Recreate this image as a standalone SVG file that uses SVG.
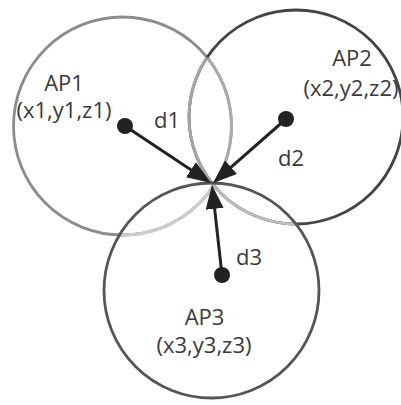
<svg xmlns="http://www.w3.org/2000/svg" width="401" height="405" viewBox="0 0 401 405">
<style>
.ring{fill:none;stroke-width:2.8}
.dot{fill:#222}
.lbl{font-family:"Open Sans","Liberation Sans",sans-serif;font-size:22px;fill:#3a3a3a;text-anchor:middle}
.arr{stroke:#222;stroke-width:3;fill:none;marker-end:url(#ah)}
</style>
<defs>
<marker id="ah" markerUnits="userSpaceOnUse" markerWidth="24" markerHeight="18" viewBox="0 0 24 18" refX="12" refY="9" orient="auto">
<path d="M0,0 L24,9 L0,18 z" fill="#222"/>
</marker>
<clipPath id="in1"><circle cx="122.5" cy="126" r="109"/></clipPath>
<clipPath id="in2"><circle cx="296" cy="117" r="107"/></clipPath>
<clipPath id="in3"><circle cx="211.5" cy="290.5" r="107.5"/></clipPath>
</defs>
<rect width="401" height="405" fill="#fff"/>
<g id="AP1">
<circle class="ring" cx="122.5" cy="126" r="109" stroke="#8c8c8c"/>
<circle class="ring" cx="122.5" cy="126" r="109" stroke="#ababab" clip-path="url(#in2)"/>
<circle class="ring" cx="122.5" cy="126" r="109" stroke="#cccccc" clip-path="url(#in3)"/>
<circle class="dot" cx="125" cy="126" r="8"/>
<text class="lbl" x="64" y="90.5">AP1</text>
<text class="lbl" x="64" y="118">(x1,y1,z1)</text>
</g>
<g id="AP2">
<circle class="ring" cx="296" cy="117" r="107" stroke="#444"/>
<circle class="ring" cx="296" cy="117" r="107" stroke="#a6a6a6" clip-path="url(#in1)"/>
<circle class="ring" cx="296" cy="117" r="107" stroke="#bdbdbd" clip-path="url(#in3)"/>
<circle class="dot" cx="286" cy="119" r="8"/>
<text class="lbl" x="352" y="66">AP2</text>
<text class="lbl" x="351" y="96">(x2,y2,z2)</text>
</g>
<g id="AP3">
<circle class="ring" cx="211.5" cy="290.5" r="107.5" stroke="#555"/>
<circle class="dot" cx="222" cy="275" r="8"/>
<text class="lbl" x="204.5" y="325">AP3</text>
<text class="lbl" x="204" y="353">(x3,y3,z3)</text>
</g>
<g id="connectors">
<path class="arr" d="M125,126 L201,176.4"/>
<path class="arr" d="M286,119 L222,175.1"/>
<path class="arr" d="M222,275 L213.3,196.9"/>
<text class="lbl" x="167" y="128">d1</text>
<text class="lbl" x="291" y="166">d2</text>
<text class="lbl" x="249" y="265">d3</text>
</g>
</svg>
